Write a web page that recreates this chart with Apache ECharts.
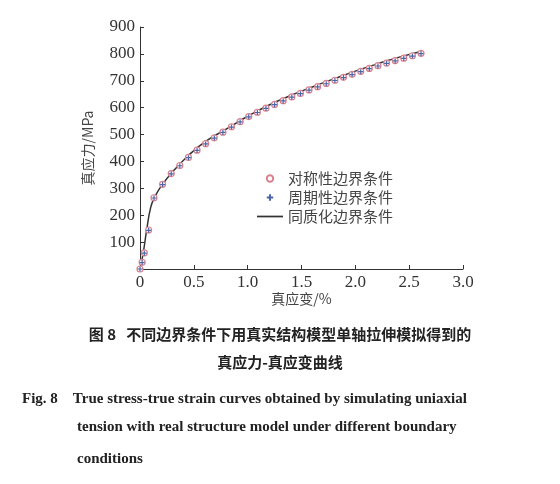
<!DOCTYPE html><html><head><meta charset="utf-8">
<script src="https://cdn.jsdelivr.net/npm/echarts@6/dist/echarts.min.js"></script>
<style>body{margin:0;background:#fff}#c{width:560px;height:484px}</style></head><body><div id="c"></div>
<script>
const strain=[0,0.02,0.04,0.08,0.13,0.21,0.29,0.37,0.45,0.53,0.61,0.69,0.77,0.85,0.93,1.01,1.09,1.17,1.25,1.33,1.41,1.49,1.57,1.65,1.73,1.81,1.89,1.97,2.05,2.13,2.21,2.29,2.37,2.45,2.53,2.61];
const symStress=[0,25,60,145,265,315,355,385,415,442,466,488,509,529,548,567,583,598,612,626,640,653,666,678,690,702,713,724,735,746,756,766,775,784,793,802];
const perStress=[0,24,59,144,264,314,354,384,414,441,465,487,508,528,547,566,582,597,611,625,639,652,665,677,689,701,712,723,734,745,755,765,774,783,792,801];
const homStrain=[0,0.03,0.06,0.1,0.14,0.2,0.3,0.45,0.6,0.8,1.0,1.2,1.4,1.6,1.8,2.0,2.2,2.4,2.62];
const homStress=[0,60,140,230,270,310,360,422,472,520,568,610,645,677,707,736,762,787,810];
const serif='"Liberation Serif","DejaVu Serif",serif';
const cjk='"Noto Sans CJK SC",sans-serif';
const chart=echarts.init(document.getElementById('c'));
const lbl={fontFamily:serif,fontSize:17,color:'#333'};
chart.setOption({
 animation:false,
 grid:{left:140,right:97,top:27,bottom:215},
 xAxis:{type:'value',min:0,max:3,interval:0.5,name:'真应变/%',nameLocation:'middle',nameGap:22,
  nameTextStyle:{fontFamily:cjk,fontSize:14,color:'#444'},
  axisLine:{lineStyle:{color:'#333'}},axisTick:{inside:true,length:4,lineStyle:{color:'#333'}},
  axisLabel:Object.assign({margin:5,formatter:v=>v===0?'0':v.toFixed(1)},lbl),splitLine:{show:false}},
 yAxis:{type:'value',min:0,max:900,interval:100,name:'真应力/MPa',nameLocation:'middle',nameGap:45,nameRotate:90,
  nameTextStyle:{fontFamily:cjk,fontSize:14,color:'#444'},
  axisLine:{show:true,lineStyle:{color:'#333'}},axisTick:{inside:true,length:4,lineStyle:{color:'#333'}},
  axisLabel:Object.assign({margin:5,formatter:v=>v===0?'':String(v)},lbl),splitLine:{show:false}},
 legend:{orient:'vertical',left:252,top:166,itemGap:4,itemWidth:26,itemHeight:8,
  textStyle:{fontFamily:cjk,fontSize:15,color:'#444'},
  data:[{name:'对称性边界条件'},{name:'周期性边界条件'},{name:'同质化边界条件',icon:'path://M0,0H30V2H0Z',itemStyle:{color:'#333'}}]},
 series:[
  {name:'同质化边界条件',type:'line',smooth:true,showSymbol:false,data:homStrain.map((x,i)=>[x,homStress[i]]),lineStyle:{color:'#333',width:1.5},itemStyle:{color:'#333'},z:1},
  {name:'对称性边界条件',type:'line',data:strain.map((x,i)=>[x,symStress[i]]),symbol:'circle',symbolSize:6,lineStyle:{width:0},itemStyle:{color:'#fff',borderColor:'#d9828f',borderWidth:1.2},z:2},
  {name:'周期性边界条件',type:'line',data:strain.map((x,i)=>[x,perStress[i]]),symbol:'path://M-1,0H1M0,-1V1',symbolSize:5,lineStyle:{width:0},itemStyle:{color:'#4a64a8',borderColor:'#4a64a8',borderWidth:1.2},z:3}
 ],
 graphic:[
  {type:'text',left:'center',top:327,style:{text:'图 8   不同边界条件下用真实结构模型单轴拉伸模拟得到的',font:'bold 15px "Noto Sans CJK SC"',fill:'#222'}},
  {type:'text',left:'center',top:355,style:{text:'真应力-真应变曲线',font:'bold 15px "Noto Sans CJK SC"',fill:'#222'}},
  {type:'text',left:22,top:392,style:{text:'Fig. 8    True stress-true strain curves obtained by simulating uniaxial',font:'bold 15px "Liberation Serif"',fill:'#222'}},
  {type:'text',left:77,top:420,style:{text:'tension with real structure model under different boundary',font:'bold 15px "Liberation Serif"',fill:'#222'}},
  {type:'text',left:77,top:452,style:{text:'conditions',font:'bold 15px "Liberation Serif"',fill:'#222'}}
 ]
});
</script></body></html>
